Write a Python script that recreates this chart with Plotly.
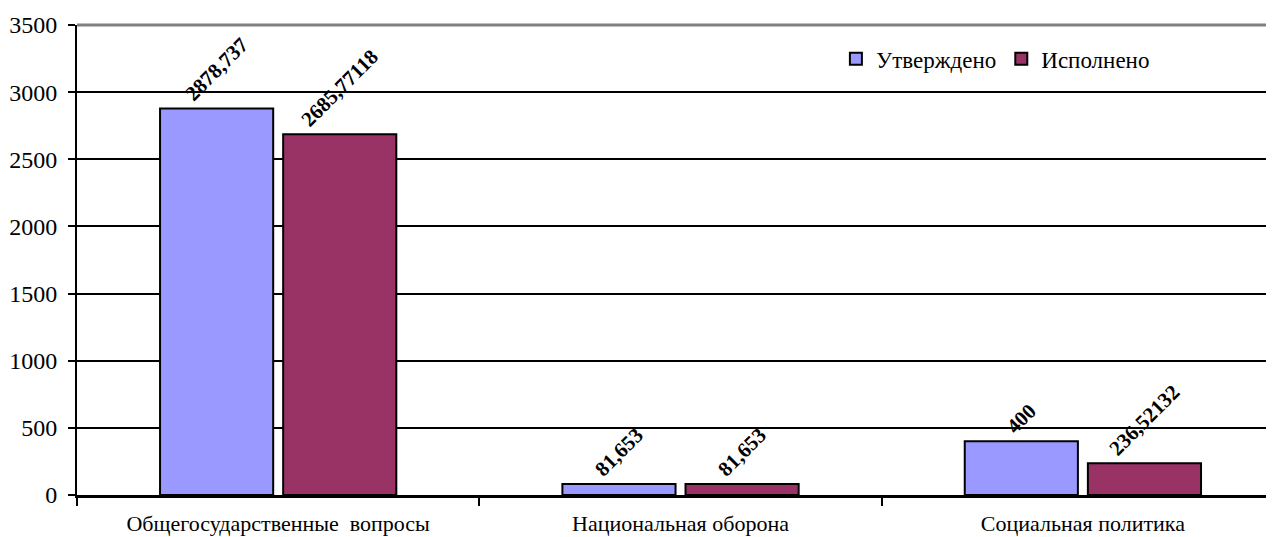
import plotly.graph_objects as go

categories = ["Общегосударственные  вопросы", "Национальная оборона", "Социальная политика"]
approved = [2878.737, 81.653, 400]
executed = [2685.77118, 81.653, 236.52132]
series_names = ["Утверждено", "Исполнено"]
y_ticks = [0, 500, 1000, 1500, 2000, 2500, 3000, 3500]

def fmt(v):
    s = str(v)
    if s.endswith(".0"):
        s = s[:-2]
    return s.replace(".", ",")

FONT = "Liberation Serif"
colors = ["#9999FF", "#993366"]

fig = go.Figure()
for name, vals, col in zip(series_names, [approved, executed], colors):
    fig.add_trace(go.Bar(
        x=categories, y=vals, name=name,
        marker=dict(color=col, line=dict(color="black", width=2)),
        text=[fmt(v) for v in vals],
        textposition="outside", textangle=-45,
        constraintext="none", cliponaxis=False,
        textfont=dict(family=FONT, size=21, color="black", weight="bold"),
    ))

# page body has an 8px default margin -> compensate
fig.update_layout(
    width=1266, height=529,
    margin=dict(l=69, r=0, t=17, b=42, autoexpand=False),
    paper_bgcolor="white", plot_bgcolor="white",
    barmode="group", bargap=0.388, bargroupgap=0.081,
    font=dict(family=FONT, color="black"),
    showlegend=True,
    legend=dict(
        x=0.634, y=0.928, xanchor="left", yanchor="middle",
        orientation="h", font=dict(family=FONT, size=23, color="black"),
        bgcolor="rgba(0,0,0,0)", itemwidth=30, tracegroupgap=0,
    ),
    xaxis=dict(
        range=[-0.5, 2.475], tickson="boundaries", ticks="outside",
        ticklen=8, tickwidth=2, tickcolor="black",
        showline=True, linecolor="black", linewidth=3,
        showgrid=False, automargin=False, ticklabelstandoff=7,
        tickfont=dict(family=FONT, size=22, color="black"),
    ),
    yaxis=dict(
        range=[0, 3500], tickvals=y_ticks, ticks="outside", ticklen=7,
        tickwidth=2, tickcolor="black",
        showline=True, linecolor="black", linewidth=2,
        showgrid=True, gridcolor="black", gridwidth=2,
        zeroline=False, automargin=False, ticklabelstandoff=6,
        tickfont=dict(family=FONT, size=24, color="black"),
    ),
    shapes=[dict(type="line", xref="paper", yref="paper", x0=0, x1=1, y0=1, y1=1,
                 line=dict(color="#808080", width=3), layer="above")],
)

fig.write_html("out.html")
